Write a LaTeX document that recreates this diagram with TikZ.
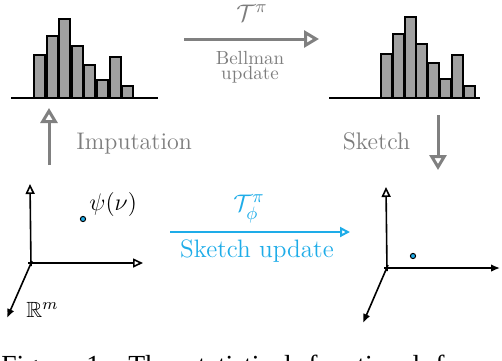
\documentclass[tikz,border=0pt]{standalone}
\usepackage{amssymb}
\usepackage{fontspec}
\newfontfamily\capfont{Liberation Serif}
\usetikzlibrary{arrows.meta}
\definecolor{skyb}{RGB}{30,172,232}
\definecolor{arrgray}{RGB}{128,128,128}
\definecolor{txtgray}{RGB}{125,125,125}
\definecolor{barfill}{RGB}{160,160,160}
\begin{document}
\begin{tikzpicture}[x=0.5pt,y=-0.5pt,
  barbox/.style={draw=black,fill=barfill,line width=1pt},
  baseln/.style={draw=black,line width=1pt},
  grayarrow/.style={draw=arrgray,line width=1.5pt,-{Triangle[open,length=7.5pt,width=8.5pt]}},
  bluearrow/.style={draw=skyb,line width=1pt,-{Triangle[open,length=5pt,width=5pt]}},
  axisopen/.style={draw=black,line width=0.8pt,-{Triangle[open,length=5pt,width=4.5pt]}},
  axisfill/.style={draw=black,line width=0.8pt,-{Latex[length=4.5pt,width=3.8pt]}},
  graytxt/.style={text=txtgray,inner sep=0pt},
  bluetxt/.style={text=skyb,inner sep=0pt},
  blacktxt/.style={text=black,inner sep=0pt},
  ptdot/.style={circle,draw=black,fill=skyb,inner sep=0pt,minimum size=2.6pt,line width=0.5pt},
  captxt/.style={inner sep=0pt,anchor=base west,font=\capfont\fontsize{13.8}{16}\selectfont}
]
\useasboundingbox (0,0) rectangle (502,360);

% left histogram
\foreach \x/\t in {34/55,46.6/36,59.2/19,71.8/46,84.4/65,97/80,109.6/57,122.2/86}
  \draw[barbox] (\x,97.5) rectangle (\x+11,\t);
\draw[baseln] (11,97.5) -- (158,97.5);

% right histogram
\foreach \x/\t in {381/54,392.8/34,404.6/17,416.4/44,428.2/63,440/79,451.8/55,463.6/86}
  \draw[barbox] (\x,97.5) rectangle (\x+11,\t);
\draw[baseln] (329,97.5) -- (480,97.5);

% Bellman arrow
\coordinate (bellS) at (184,39);
\coordinate (bellE) at (319,39);
\draw[grayarrow] (bellS) -- (bellE);
\node[graytxt,font=\fontsize{13}{15}\selectfont] (tpi) at (252,13) {$\mathcal{T}^\pi$};
\node[graytxt,font=\fontsize{9.5}{11}\selectfont,anchor=base] (bell1) at (250,64) {Bellman};
\node[graytxt,font=\fontsize{9.5}{11}\selectfont,anchor=base] (bell2) at (250,79) {update};

% Imputation arrow
\coordinate (impS) at (49,165);
\coordinate (impE) at (49,108);
\draw[grayarrow] (impS) -- (impE);
\node[graytxt,font=\fontsize{12}{14}\selectfont,anchor=base west] (imp) at (76,149) {Imputation};

% Sketch arrow
\coordinate (skS) at (438,115);
\coordinate (skE) at (438,170);
\draw[grayarrow] (skS) -- (skE);
\node[graytxt,font=\fontsize{12}{14}\selectfont,anchor=base] (sk) at (376.5,149) {Sketch};

% Sketch update arrow
\coordinate (suS) at (170,232);
\coordinate (suE) at (350,232);
\draw[bluearrow] (suS) -- (suE);
\node[bluetxt,font=\fontsize{13}{15}\selectfont] (tphi) at (249,209) {$\mathcal{T}^\pi_\phi$};
\node[bluetxt,font=\fontsize{12.6}{15}\selectfont,anchor=base] (su) at (257,257) {Sketch update};

% left axes
\coordinate (lo) at (31,263);
\coordinate (lv0) at (31,266);
\coordinate (lv1) at (30,184);
\coordinate (lh0) at (28,263);
\coordinate (lh1) at (143,263);
\coordinate (ld0) at (32,261);
\coordinate (ld1) at (7,318);
\draw[axisopen] (lv0) -- (lv1);
\draw[axisopen] (lh0) -- (lh1);
\draw[axisfill] (ld0) -- (ld1);
\node[ptdot] (p1) at (83,219) {};
\node[blacktxt,font=\fontsize{11.5}{14}\selectfont,anchor=base west] (psi) at (89,210) {$\psi(\nu)$};
\node[blacktxt,font=\fontsize{11}{13}\selectfont,anchor=base west] (rm) at (26,317) {$\mathbb{R}^m$};

% right axes
\coordinate (ro) at (387,268);
\coordinate (rv0) at (387,271);
\coordinate (rv1) at (386,187);
\coordinate (rh0) at (384,268);
\coordinate (rh1) at (500,268);
\coordinate (rd0) at (388,265);
\coordinate (rd1) at (363,323);
\draw[axisopen] (rv0) -- (rv1);
\draw[axisfill] (rh0) -- (rh1);
\draw[axisfill] (rd0) -- (rd1);
\node[ptdot] (p2) at (413,256) {};

% cropped caption
\begin{scope}
\clip (0,0) rectangle (502,360);
\node[captxt] (c1) at (1,374) {Figure};
\node[captxt] (c2) at (86,374) {1:};
\node[captxt] (c3) at (128,374) {The};
\node[captxt] (c4) at (187,374) {statistical};
\node[captxt] (c5) at (308,374) {functional};
\node[captxt] (c6) at (435,374) {f};
\end{scope}
\end{tikzpicture}
\end{document}
